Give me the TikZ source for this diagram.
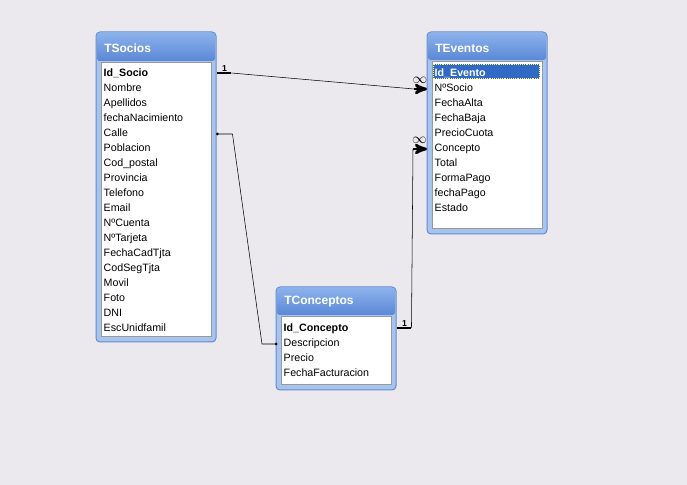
\documentclass[tikz,border=0pt]{standalone}
\usepackage{fontspec}
\setmainfont{Liberation Sans}
\usepackage{tikz}
\usetikzlibrary{arrows,calc}

\definecolor{fondo}{RGB}{235,233,237}
\definecolor{borde}{RGB}{98,138,208}
\definecolor{marco}{RGB}{166,196,238}
\definecolor{barraA}{RGB}{140,178,236}
\definecolor{barraB}{RGB}{90,136,214}
\definecolor{seleccion}{RGB}{49,106,197}

\begin{document}
\begin{tikzpicture}[x=0.75pt,y=-0.75pt,>=stealth',
    ventana/.style={draw=borde,fill=marco,line width=0.75pt,rounded corners=3pt},
    barra/.style={top color=barraA,bottom color=barraB,rounded corners=2pt},
    lista/.style={draw=gray!80,fill=white,line width=0.75pt},
    titulo/.style={anchor=west,inner sep=0pt,text=white,font=\fontsize{9}{10}\selectfont\bfseries},
    campo/.style={anchor=west,inner xsep=5.6pt,inner ysep=0pt,text width=79.5pt,yshift=-1.5pt,
      align=left,text height=6pt,text depth=1.8pt,font=\fontsize{8}{9}\selectfont},
    grueso/.style={line width=2pt},
    card/.style={inner sep=1pt,font=\fontsize{6.5}{7}\selectfont\bfseries},
    infinito/.style={inner sep=0pt,yshift=4pt,font=\fontsize{11}{11}\selectfont}]
    \fill[fondo] (0,0) rectangle (687,485);
    \useasboundingbox (0,0) rectangle (687,485);

    % TSocios
    \filldraw[ventana] (96,32) rectangle (216,342);
    \shade[barra] (97,33) rectangle (215,61);
    \node[titulo] (tsocios) at (104,48) {TSocios};
    \filldraw[lista] (101,63) rectangle (211,337);
    \node[campo] (idsocio) at (96,72) {\textbf{Id\_Socio}};
    \node[campo] (nombre) at (96,87) {Nombre};
    \node[campo] (apellidos) at (96,102) {Apellidos};
    \node[campo] (fnac) at (96,117) {fechaNacimiento};
    \node[campo] (calle) at (96,132) {Calle};
    \node[campo] (poblacion) at (96,147) {Poblacion};
    \node[campo] (cp) at (96,162) {Cod\_postal};
    \node[campo] (provincia) at (96,177) {Provincia};
    \node[campo] (telefono) at (96,192) {Telefono};
    \node[campo] (email) at (96,207) {Email};
    \node[campo] (ncuenta) at (96,222) {NºCuenta};
    \node[campo] (ntarjeta) at (96,237) {NºTarjeta};
    \node[campo] (fcad) at (96,252) {FechaCadTjta};
    \node[campo] (codseg) at (96,267) {CodSegTjta};
    \node[campo] (movil) at (96,282) {Movil};
    \node[campo] (foto) at (96,297) {Foto};
    \node[campo] (dni) at (96,312) {DNI};
    \node[campo] (esc) at (96,327) {EscUnidfamil};

    % TEventos
    \filldraw[ventana] (427,32) rectangle (547,234);
    \shade[barra] (428,33) rectangle (546,60);
    \node[titulo] (teventos) at (435,48) {TEventos};
    \filldraw[lista] (432,62) rectangle (542,229);
    \fill[seleccion] (433,64) rectangle (540,79);
    \draw[densely dotted,yellow!60!white] (433.5,64.5) rectangle (539.5,78.5);
    \node[campo] (idevento) at (427,72) {\textcolor{white}{\textbf{Id\_Evento}}};
    \node[campo] (nsocio) at (427,87) {NºSocio};
    \node[campo] (falta) at (427,102) {FechaAlta};
    \node[campo] (fbaja) at (427,117) {FechaBaja};
    \node[campo] (cuota) at (427,132) {PrecioCuota};
    \node[campo] (concepto) at (427,147) {Concepto};
    \node[campo] (total) at (427,162) {Total};
    \node[campo] (formapago) at (427,177) {FormaPago};
    \node[campo] (fpago) at (427,192) {fechaPago};
    \node[campo] (estado) at (427,207) {Estado};

    % TConceptos
    \filldraw[ventana] (276,287) rectangle (396,390);
    \shade[barra] (277,288) rectangle (395,315);
    \node[titulo] (tconceptos) at (284,302) {TConceptos};
    \filldraw[lista] (281,317) rectangle (391,385);
    \node[campo] (idconcepto) at (276,327) {\textbf{Id\_Concepto}};
    \node[campo] (descripcion) at (276,342) {Descripcion};
    \node[campo] (precio) at (276,357) {Precio};
    \node[campo] (ffact) at (276,372) {FechaFacturacion};

    % relaciones
    \coordinate (r1a) at ($(idsocio.east)+(14,-1)$);
    \coordinate (r1b) at ($(nsocio.west)+(-13,0)$);
    \draw[grueso] (idsocio.east |- r1a) -- (r1a);
    \draw[grueso,->] (r1b) -- (nsocio.west);
    \draw (r1a) -- (r1b);
    \node[card,above] (uno1) at ($(idsocio.east |- r1a)!0.5!(r1a)$) {1};
    \node[infinito,above] (inf1) at ($(r1b)!0.45!(nsocio.west)$) {$\infty$};

    \coordinate (r3a) at ($(idconcepto.east)+(14,-1)$);
    \coordinate (r3b) at ($(concepto.west)+(-14,0)$);
    \draw[grueso] (idconcepto.east |- r3a) -- (r3a);
    \draw[grueso,->] (r3b) -- (concepto.west);
    \draw (r3a) -- (r3b);
    \node[card,above] (uno3) at ($(idconcepto.east |- r3a)!0.5!(r3a)$) {1};
    \node[infinito,above] (inf3) at ($(r3b)!0.45!(concepto.west)$) {$\infty$};

    \coordinate (r2a) at ($(calle.east)+(15,0)$);
    \coordinate (r2b) at ($(descripcion.west)+(-14,0)$);
    \draw (calle.east) -- (r2a) -- (r2b) -- (descripcion.west);
    \fill (calle.east) circle (1.5);
    \fill (descripcion.west) circle (1.5);
\end{tikzpicture}
\end{document}
